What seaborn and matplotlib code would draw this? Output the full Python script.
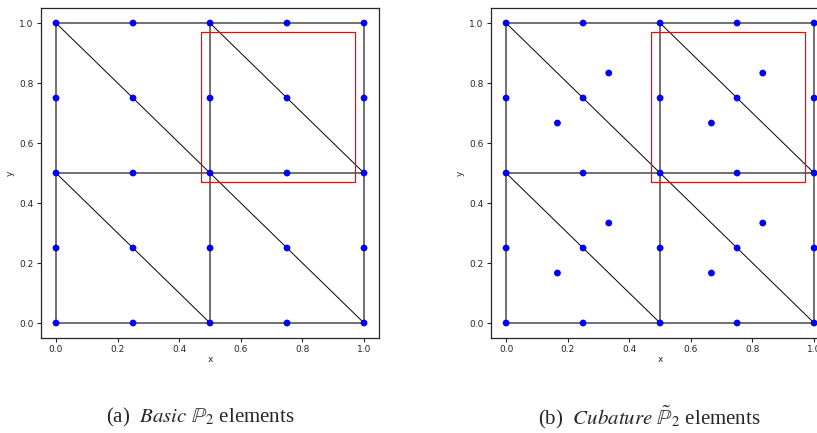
import matplotlib
matplotlib.use("Agg")
import matplotlib.pyplot as plt
import seaborn as sns
import pandas as pd

# P2 nodes on a 2x2 square mesh split into 8 triangles
grid = [0.0, 0.25, 0.5, 0.75, 1.0]
node_x = [gx for gy in grid for gx in grid]
node_y = [gy for gy in grid for gx in grid]

# extra cubature points (triangle centroids)
cub_x = [1/6, 1/3, 2/3, 5/6, 1/6, 1/3, 2/3, 5/6]
cub_y = [1/6, 1/3, 1/6, 1/3, 2/3, 5/6, 2/3, 5/6]

# mesh edges (x0, y0, x1, y1)
straight_edges = [
    (0, 0, 1, 0), (0, 0.5, 1, 0.5), (0, 1, 1, 1),
    (0, 0, 0, 1), (0.5, 0, 0.5, 1), (1, 0, 1, 1),
]
diag_edges = [
    (0, 1, 1, 0), (0, 0.5, 0.5, 0), (0.5, 1, 1, 0.5),
]

# zoom box
box_x = [0.47, 0.97, 0.97, 0.47, 0.47]
box_y = [0.47, 0.47, 0.97, 0.97, 0.47]

captions = [r"(a)  $\mathit{Basic}$ $\mathbb{P}_2$ elements",
            r"(b)  $\mathit{Cubature}$ $\tilde{\mathbb{P}}_2$ elements"]

sns.set_style("ticks")
plt.rcParams["font.family"] = ["DejaVu Sans"]
plt.rcParams["mathtext.fontset"] = "stix"

fig = plt.figure(figsize=(8.17, 4.33), dpi=100)
ax1 = fig.add_axes([0.0497, 0.2194, 0.4147, 0.762])
ax2 = fig.add_axes([0.6006, 0.2194, 0.4147, 0.762])

pts = pd.DataFrame({"x": node_x, "y": node_y})
cub = pd.DataFrame({"x": node_x + cub_x, "y": node_y + cub_y})

for ax, df in [(ax1, pts), (ax2, cub)]:
    for e in straight_edges:
        ax.plot([e[0], e[2]], [e[1], e[3]], color="0.4", lw=1.3, zorder=1)
    for e in diag_edges:
        ax.plot([e[0], e[2]], [e[1], e[3]], color="black", lw=0.7, zorder=1)
    sns.scatterplot(data=df, x="x", y="y", ax=ax, color="blue", s=24,
                    edgecolor="none", zorder=3)
    ax.plot(box_x, box_y, color="red", lw=0.9, zorder=2)
    ax.set_xlim(-0.05, 1.05)
    ax.set_ylim(-0.05, 1.05)
    ax.set_xticks([0, 0.2, 0.4, 0.6, 0.8, 1.0])
    ax.set_yticks([0, 0.2, 0.4, 0.6, 0.8, 1.0])
    ax.tick_params(labelsize=6.5, length=3, width=0.8, pad=2)
    ax.set_xlabel("x", fontsize=6.5, labelpad=1)
    ax.set_ylabel("y", fontsize=6.5, labelpad=3)
    for s in ax.spines.values():
        s.set_linewidth(0.9)
        s.set_visible(True)

fig.text(0.245, 0.036, captions[0], ha="center", va="center",
         fontsize=15, family="Liberation Serif")
fig.text(0.795, 0.036, captions[1], ha="center", va="center",
         fontsize=15, family="Liberation Serif")

fig.savefig("out.png", dpi=100)
